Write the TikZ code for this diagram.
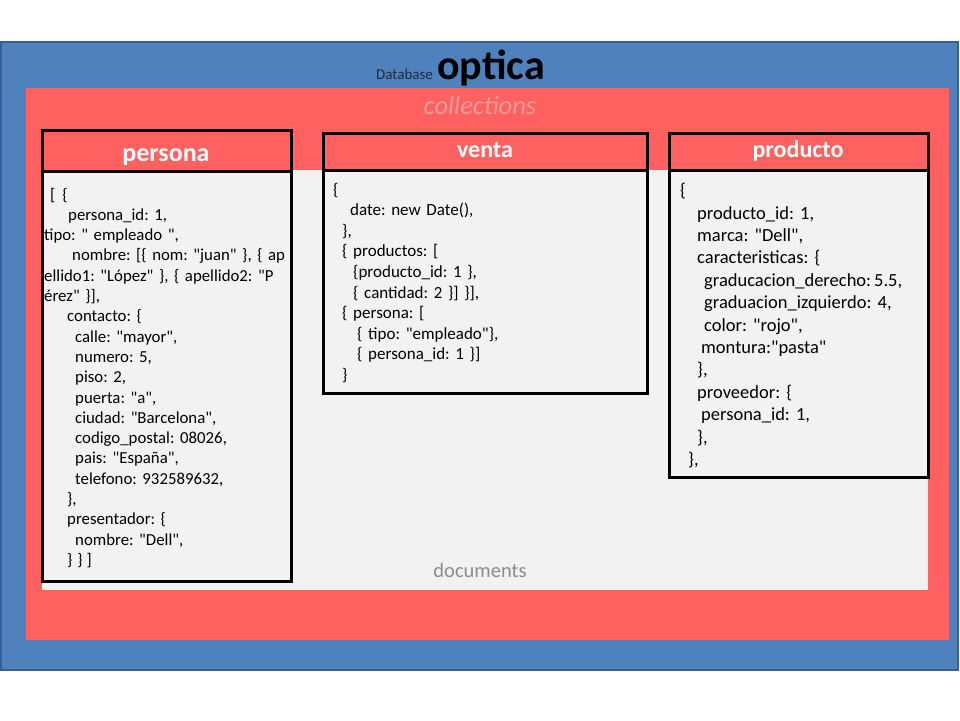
\documentclass[tikz,border=0pt]{standalone}
\usepackage{fontspec}
\setmainfont{Carlito}[Ligatures=TeXOff]
\usetikzlibrary{positioning}
\definecolor{dbblue}{HTML}{4F81BD}
\definecolor{dbedge}{HTML}{3A5F8E}
\definecolor{dbtext}{HTML}{1F2A44}
\definecolor{collred}{HTML}{FF6161}
\definecolor{colltext}{HTML}{FF9A9A}
\definecolor{docgray}{HTML}{F2F2F2}
\definecolor{doctext}{HTML}{8C8C8C}
\frenchspacing
\begin{document}
\begin{tikzpicture}[x=1pt,y=-1pt,
  box/.style={draw=black,line width=3pt},
  header/.style={anchor=base,inner sep=0pt,text=white,font=\bfseries\fontsize{24}{28}\selectfont},
  fields/.style={anchor=base west,inner sep=0pt,text width=300pt,align=left}]
\useasboundingbox (0,0) rectangle (960,720);
\draw [fill=dbblue,draw=dbedge,line width=1.5pt] (1,42) rectangle (958,670);
\draw [fill=collred,draw=none] (26,88) rectangle (949,640);
\draw [fill=docgray,draw=none] (42,170) rectangle (928,590);

\node [anchor=base west,inner sep=0pt,text=dbtext,font=\fontsize{15}{18}\selectfont] (dblabel) at (376,79) {Database};
\node [base right=4pt of dblabel,inner sep=0pt,font=\bfseries\fontsize{42}{48}\selectfont] (dbname) {optica};
\node [anchor=base,inner sep=0pt,text=colltext,font=\itshape\fontsize{26.5}{30}\selectfont] (collections) at (480,114) {collections};
\node [anchor=base,inner sep=0pt,text=doctext,font=\fontsize{20.5}{24}\selectfont] (documents) at (480,577) {documents};

\draw [box,fill=collred] (42,130) rectangle (291,171);
\draw [box,fill=docgray] (42,171) rectangle (291,581);
\node [header,font=\bfseries\fontsize{26}{30}\selectfont] (persona) at (166,161.5) {persona};
\node [fields,font=\fontsize{16.8}{20.3}\selectfont\frenchspacing] (personadoc) at (44,200) {%
\hspace*{6pt}[\hspace{7pt}\{\\
\hspace*{24pt}persona\_id: 1,\\
\hspace*{0pt}tipo: " empleado ",\\
\hspace*{28pt}nombre: [\{ nom: "juan" \}, \{ ap\\
\hspace*{0pt}ellido1: "López" \}, \{ apellido2: "P\\
\hspace*{0pt}érez" \}],\\
\hspace*{23pt}contacto: \{\\
\hspace*{31pt}calle: "mayor",\\
\hspace*{31pt}numero: 5,\\
\hspace*{31pt}piso: 2,\\
\hspace*{31pt}puerta: "a",\\
\hspace*{31pt}ciudad: "Barcelona",\\
\hspace*{31pt}codigo\_postal: 08026,\\
\hspace*{31pt}pais: "España",\\
\hspace*{31pt}telefono: 932589632,\\
\hspace*{23pt}\},\\
\hspace*{23pt}presentador: \{\\
\hspace*{31pt}nombre: "Dell",\\
\hspace*{23pt}\}\hspace{5pt}\}\hspace{4pt}]};

\draw [box,fill=collred] (323,133) rectangle (647,170);
\draw [box,fill=docgray] (323,170) rectangle (647,393);
\node [header] (venta) at (485,157) {venta};
\node [fields,font=\fontsize{17}{20.6}\selectfont\frenchspacing] (ventadoc) at (333,195) {%
\{\\
\hspace*{17pt}date: new Date(),\\
\hspace*{9pt}\},\\
\hspace*{9pt}\{ productos: [\\
\hspace*{20pt}\{producto\_id: 1 \},\\
\hspace*{20pt}\{ cantidad: 2 \}] \}],\\
\hspace*{9pt}\{ persona: [\\
\hspace*{24pt}\{ tipo: "empleado"\},\\
\hspace*{24pt}\{ persona\_id: 1 \}]\\
\hspace*{9pt}\}};

\draw [box,fill=collred] (669,133) rectangle (928,170);
\draw [box,fill=docgray] (669,170) rectangle (928,477);
\node [header] (producto) at (798,157) {producto};
\node [fields,font=\fontsize{18.5}{22.4}\selectfont\frenchspacing] (productodoc) at (680,196.6) {%
\{\\
\hspace*{17pt}producto\_id: 1,\\
\hspace*{17pt}marca: "Dell",\\
\hspace*{17pt}caracteristicas: \{\\
\hspace*{24pt}graducacion\_derecho:\hspace{3pt}5.5,\\
\hspace*{24pt}graduacion\_izquierdo: 4,\\
\hspace*{24pt}color: "rojo",\\
\hspace*{21pt}montura:"pasta"\\
\hspace*{17pt}\},\\
\hspace*{17pt}proveedor: \{\\
\hspace*{21pt}persona\_id: 1,\\
\hspace*{17pt}\},\\
\hspace*{8pt}\},};
\end{tikzpicture}
\end{document}
